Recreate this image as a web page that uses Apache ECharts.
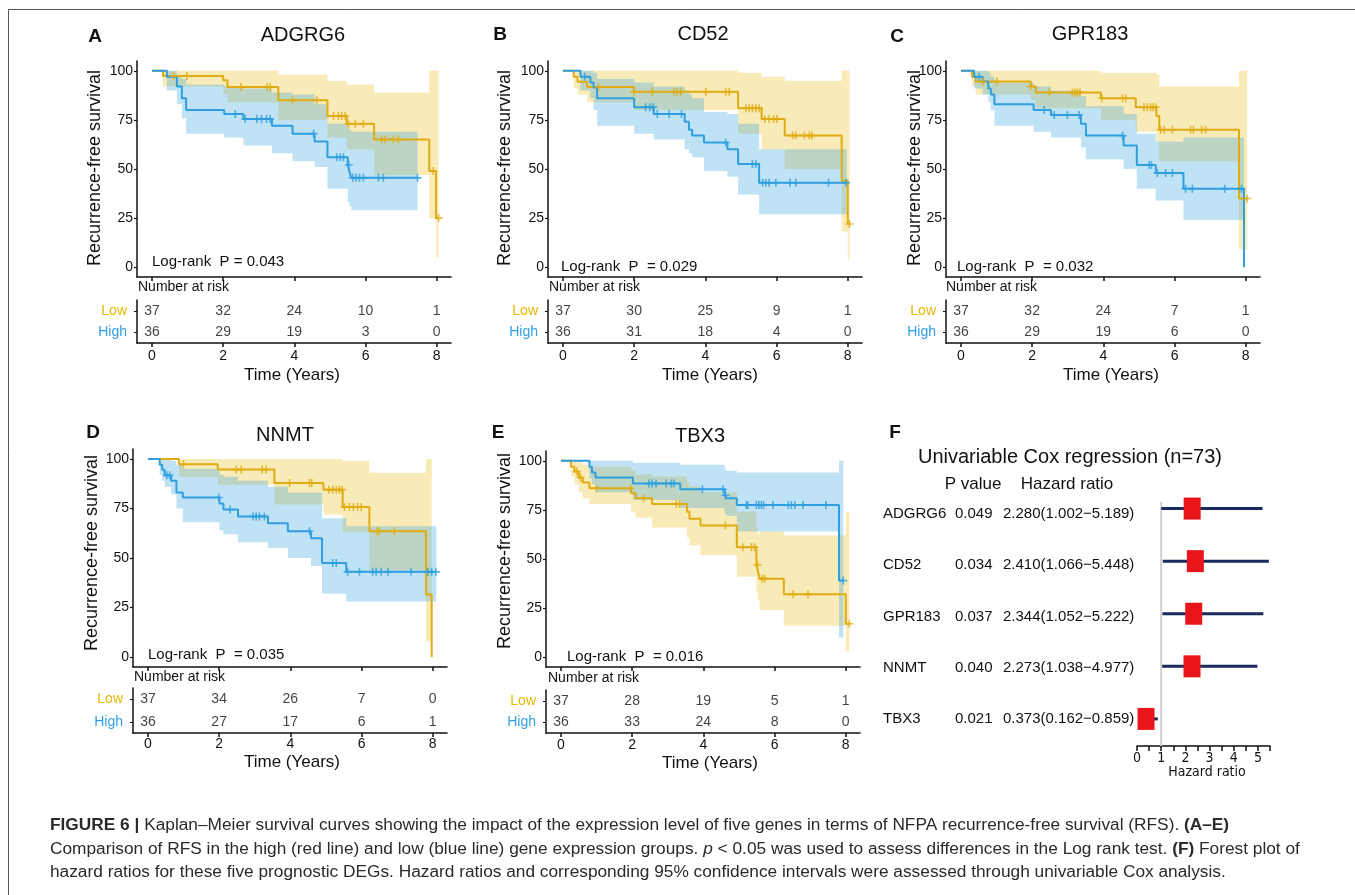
<!DOCTYPE html>
<html>
<head>
<meta charset="utf-8">
<title>Figure 6</title>
<script src="https://cdn.jsdelivr.net/npm/echarts@6.0.0/dist/echarts.min.js"></script>
<style>
  html, body { margin: 0; padding: 0; background: #fff; }
  #main { width: 1355px; height: 895px; }
</style>
</head>
<body>
<div id="main"></div>
<script>
// ---- values (time in years, survival in %) ----
// A: ADGRG6
var A_lowT    = [0, 0.31, 2.0, 2.12, 3.55, 4.93, 5.47, 6.24, 7.79, 7.98, 8.05];
var A_lowS    = [100, 97.3, 95.2, 91.8, 85, 77, 73, 65, 49, 25, 25];
var A_lowLo   = [100, 92, 88, 84, 75, 66, 60, 47, 25, 5, 5];
var A_lowHi   = [100, 100, 100, 100, 98, 95, 93, 89, 100, 100, 100];
var A_lowCens = [0.61, 0.98, 2.5, 3.23, 3.32, 3.95, 4.63, 5.1, 5.24, 5.33, 5.43, 5.52, 5.71, 5.94, 6.45, 6.55, 6.78, 6.92, 7.9, 8.05];
var A_highT    = [0, 0.42, 0.7, 0.84, 0.96, 2.03, 2.57, 3.37, 3.95, 4.57, 4.93, 5.5, 5.55, 5.6, 7.46];
var A_highS    = [100, 97, 92, 86, 80, 78, 75.5, 72, 68, 64, 56, 52, 48.5, 45.5, 45.5];
var A_highLo   = [100, 90, 83, 76, 68, 66, 62, 58, 54, 51, 40, 33, 31, 29, 29];
var A_highHi   = [100, 100, 98, 96, 93, 92, 91, 89, 88, 83, 73, 71, 70, 69, 69];
var A_highCens = [2.34, 2.62, 2.95, 3.08, 3.22, 3.32, 4.54, 5.19, 5.29, 5.38, 5.53, 5.64, 5.73, 5.83, 5.94, 6.36, 6.5, 7.46];
var A_riskLow  = [37, 32, 24, 10, 1];
var A_riskHigh = [36, 29, 19, 3, 0];

// B: CD52
var B_lowT    = [0, 0.30, 0.41, 0.68, 1.99, 4.92, 5.58, 6.23, 7.83, 8.0, 8.05];
var B_lowS    = [100, 97, 94.4, 91.8, 89.3, 81, 75.5, 67, 44, 22, 22];
var B_lowLo   = [100, 91, 88, 84, 80, 68, 60, 50, 18, 4, 4];
var B_lowHi   = [100, 100, 100, 100, 100, 99, 97, 95, 100, 100, 100];
var B_lowCens = [1.0, 1.99, 2.51, 3.12, 3.21, 3.31, 4.01, 4.57, 4.67, 5.14, 5.23, 5.32, 5.42, 5.51, 5.67, 5.79, 5.92, 6.01, 6.45, 6.54, 6.78, 6.92, 6.99, 8.05];
var B_highT    = [0, 0.49, 0.77, 0.86, 0.96, 2.0, 2.55, 3.42, 3.54, 3.63, 3.96, 4.62, 4.92, 5.51, 7.97];
var B_highS    = [100, 97, 94, 91.5, 86, 81.5, 78, 74, 70, 67, 63.5, 60, 52.5, 43, 43];
var B_highLo   = [100, 90, 86, 80, 72, 68, 65, 60, 58, 56, 49, 46, 37, 27, 27];
var B_highHi   = [100, 100, 100, 99, 96, 94, 92, 90, 88, 86, 79, 78, 73, 60, 60];
var B_highCens = [0.61, 2.32, 2.44, 2.53, 2.65, 2.98, 3.33, 4.57, 5.32, 5.42, 5.61, 5.7, 5.79, 5.98, 6.38, 6.54, 7.46, 7.95];
var B_riskLow  = [37, 30, 25, 9, 1];
var B_riskHigh = [36, 31, 18, 4, 0];

// C: GPR183
var C_lowT    = [0, 0.31, 0.42, 1.96, 2.10, 3.93, 4.91, 5.49, 5.57, 7.81, 8.04];
var C_lowS    = [100, 97, 94.5, 92, 89, 86, 81.5, 77, 70, 35, 35];
var C_lowLo   = [100, 92, 88, 85, 81, 75, 69, 64, 54, 9, 9];
var C_lowHi   = [100, 100, 100, 100, 100, 99, 99, 98, 92, 100, 100];
var C_lowCens = [0.61, 1.01, 1.96, 2.48, 3.13, 3.2, 3.27, 3.34, 3.96, 4.54, 4.63, 5.14, 5.24, 5.33, 5.4, 5.47, 5.61, 5.71, 5.94, 6.45, 6.53, 6.76, 6.87, 8.04];
var C_highT    = [0, 0.37, 0.61, 0.77, 0.84, 0.94, 2.04, 2.53, 3.37, 3.51, 4.57, 4.94, 5.47, 6.25, 7.95];
var C_highS    = [100, 97, 94.5, 91, 88, 83, 80, 77.5, 73, 67, 62, 52, 48, 40, 0];
var C_highLo   = [100, 91, 88, 84, 80, 72, 69, 66, 61, 55, 50, 40, 34, 24, 0];
var C_highHi   = [100, 100, 100, 99, 97, 94, 92, 90, 87, 82, 78, 68, 64, 66, 0];
var C_highCens = [0.51, 2.34, 2.62, 2.99, 3.32, 4.54, 5.29, 5.35, 5.52, 5.75, 5.94, 6.31, 6.5, 7.41, 7.88];
var C_riskLow  = [37, 32, 24, 7, 1];
var C_riskHigh = [36, 29, 19, 6, 0];

// D: NNMT
var D_lowT    = [0, 0.87, 1.96, 3.55, 4.93, 5.47, 6.22, 7.81, 7.97];
var D_lowS    = [100, 97.3, 94.6, 87.8, 84.5, 75.7, 63.5, 31.6, 0];
var D_lowLo   = [100, 91, 87, 77, 72, 63, 44, 8, 0];
var D_lowHi   = [100, 100, 100, 100, 100, 99, 93, 100, 0];
var D_lowCens = [1.0, 2.48, 2.62, 3.21, 3.32, 3.98, 4.54, 4.6, 5.08, 5.19, 5.29, 5.38, 5.45, 5.52, 5.66, 5.77, 5.89, 5.99, 6.44, 6.5, 6.92];
var D_highT    = [0, 0.33, 0.40, 0.47, 0.65, 0.8, 0.98, 2.01, 2.12, 2.53, 3.37, 3.93, 4.58, 4.89, 5.57, 8.1];
var D_highS    = [100, 97, 94.5, 91.7, 89, 83, 80.5, 77.5, 74.5, 71, 67.5, 63.5, 60, 47.5, 43, 43];
var D_highLo   = [100, 92, 89, 86, 82, 75, 68, 64, 62, 58, 55, 50, 46, 32, 28, 28];
var D_highHi   = [100, 100, 100, 100, 99, 97, 95, 92, 91, 89, 86, 83, 83, 70, 66, 66];
var D_highCens = [0.53, 0.61, 1.99, 2.31, 2.95, 3.04, 3.13, 3.27, 4.54, 5.19, 5.29, 5.61, 5.94, 6.31, 6.41, 6.55, 6.74, 7.39, 7.86, 7.97, 8.09];
var D_riskLow  = [37, 34, 26, 7, 0];
var D_riskHigh = [36, 27, 17, 6, 1];

// E: TBX3
var E_lowT    = [0, 0.28, 0.38, 0.50, 0.61, 0.80, 1.97, 2.09, 2.56, 3.54, 3.61, 3.92, 4.94, 5.49, 5.53, 5.58, 6.26, 8.0, 8.1];
var E_lowS    = [100, 97, 94.5, 91.5, 89, 86, 83.5, 81, 78, 74, 70.5, 67, 56, 47, 44, 40, 32, 17, 17];
var E_lowLo   = [100, 92, 88, 84, 81, 78, 74, 71, 66, 61, 57, 52, 41, 33, 29, 24, 16, 3, 3];
var E_lowHi   = [100, 100, 100, 100, 98, 97, 95, 93, 92, 89, 87, 84, 74, 66, 63, 64, 62, 74, 74];
var E_lowCens = [0.45, 0.55, 1.0, 1.96, 2.32, 3.24, 3.33, 4.62, 5.11, 5.35, 5.44, 5.52, 5.65, 5.72, 6.52, 6.94, 8.1];
var E_highT    = [0, 0.80, 0.87, 0.97, 2.02, 3.35, 4.60, 4.64, 4.94, 7.81, 7.93];
var E_highS    = [100, 97, 94, 91.5, 88.5, 85.5, 82.5, 81, 77.5, 39, 39];
var E_highLo   = [100, 91, 88, 84, 80, 76, 73, 72, 64, 10, 10];
var E_highHi   = [100, 100, 100, 100, 99, 98, 96, 95, 94, 100, 100];
var E_highCens = [2.47, 2.56, 2.67, 2.95, 3.1, 3.17, 3.97, 4.55, 4.62, 5.21, 5.25, 5.49, 5.56, 5.63, 5.69, 5.96, 6.38, 6.47, 6.57, 6.8, 7.44, 7.93];
var E_riskLow  = [37, 28, 19, 5, 1];
var E_riskHigh = [36, 33, 24, 8, 0];

var riskTimes = [0, 2, 4, 6, 8];
var survTicks = [0, 25, 50, 75, 100];

// F: univariable Cox regression
var coxGenes = ['ADGRG6', 'CD52', 'GPR183', 'NNMT', 'TBX3'];
var coxP     = ['0.049', '0.034', '0.037', '0.040', '0.021'];
var coxHR    = [2.280, 2.410, 2.344, 2.273, 0.373];
var coxLo    = [1.002, 1.066, 1.052, 1.038, 0.162];
var coxHi    = [5.189, 5.448, 5.222, 4.977, 0.859];

// ---- styling / layout ----
var FONT = 'Liberation Sans, Arial, Helvetica, sans-serif';
var NARROW = '"Liberation Sans Narrow", "DejaVu Sans Condensed", "Arial Narrow", sans-serif';
var GOLD = '#E0AC12', BLUE = '#2E9FDF';
var GOLD_TXT = '#E7B800';
var GOLD_BAND = 'rgba(231,184,0,0.28)', BLUE_BAND = 'rgba(46,159,223,0.3)';
var NAVY = '#1B2A5C', RED = '#E8151B';
var PLUS = 'path://M4,0H6V4H10V6H6V10H4V6H0V4H4Z';

var panels = [
  {id: 'A', gene: 'ADGRG6', p: 'Log-rank  P = 0.043',
   low: [A_lowT, A_lowS, A_lowLo, A_lowHi, A_lowCens], high: [A_highT, A_highS, A_highLo, A_highHi, A_highCens],
   risk: [A_riskLow, A_riskHigh],
   L: {x: 137, top: 61, h: 216, tabTop: 300, tabH: 43, letter: [95, 37], title: [303, 35], ylab: [95, 168], logrank: [152, 262], nar: [138, 287], lm: 6, time: [292, 375]}},
  {id: 'B', gene: 'CD52', p: 'Log-rank  P  = 0.029',
   low: [B_lowT, B_lowS, B_lowLo, B_lowHi, B_lowCens], high: [B_highT, B_highS, B_highLo, B_highHi, B_highCens],
   risk: [B_riskLow, B_riskHigh],
   L: {x: 548, top: 61, h: 216, tabTop: 300, tabH: 43, letter: [500, 35], title: [703, 34], ylab: [505, 168], logrank: [561, 267], nar: [549, 287], lm: 6, time: [710, 375]}},
  {id: 'C', gene: 'GPR183', p: 'Log-rank  P  = 0.032',
   low: [C_lowT, C_lowS, C_lowLo, C_lowHi, C_lowCens], high: [C_highT, C_highS, C_highLo, C_highHi, C_highCens],
   risk: [C_riskLow, C_riskHigh],
   L: {x: 946, top: 61, h: 216, tabTop: 300, tabH: 43, letter: [897, 37], title: [1090, 34], ylab: [915, 168], logrank: [957, 267], nar: [946, 287], lm: 6, time: [1111, 375]}},
  {id: 'D', gene: 'NNMT', p: 'Log-rank  P  = 0.035',
   low: [D_lowT, D_lowS, D_lowLo, D_lowHi, D_lowCens], high: [D_highT, D_highS, D_highLo, D_highHi, D_highCens],
   risk: [D_riskLow, D_riskHigh],
   L: {x: 133, top: 449, h: 218, tabTop: 688, tabH: 45, letter: [93, 433], title: [285, 435], ylab: [92, 553], logrank: [148, 655], nar: [134, 677], lm: 4, time: [292, 762]}},
  {id: 'E', gene: 'TBX3', p: 'Log-rank  P  = 0.016',
   low: [E_lowT, E_lowS, E_lowLo, E_lowHi, E_lowCens], high: [E_highT, E_highS, E_highLo, E_highHi, E_highCens],
   risk: [E_riskLow, E_riskHigh],
   L: {x: 546, top: 451, h: 216, tabTop: 690, tabH: 43, letter: [498, 433], title: [700, 436], ylab: [505, 551], logrank: [567, 657], nar: [548, 678], lm: 5, time: [710, 763]}}
];

var grids = [], xAxes = [], yAxes = [], series = [], graphics = [];
var PLOT_W = 314;

function txt(x, y, s, o) {
  var st = {text: s, fontFamily: FONT, fontSize: 15, fill: '#111', align: 'left', verticalAlign: 'middle'};
  for (var k in o) st[k] = o[k];
  graphics.push({type: 'text', x: x, y: y, style: st, silent: true, z: 10});
}

function survAt(t, s, x) {
  var v = s[0];
  for (var i = 0; i < t.length; i++) { if (t[i] <= x) v = s[i]; }
  return v;
}

function bandSeries(gi, t, lo, hi, color) {
  return {
    type: 'custom', xAxisIndex: gi, yAxisIndex: gi, silent: true, z: 1,
    data: t.map(function (v, i) { return [v, lo[i], hi[i]]; }),
    renderItem: function (params, api) {
      if (params.dataIndex !== 0) return null;
      var up = [], dn = [];
      for (var i = 0; i < t.length - 1; i++) {
        up.push(api.coord([t[i], hi[i]]), api.coord([t[i + 1], hi[i]]));
        dn.push(api.coord([t[i], lo[i]]), api.coord([t[i + 1], lo[i]]));
      }
      return {type: 'polygon', shape: {points: up.concat(dn.reverse())}, style: {fill: color}};
    }
  };
}

function axisLine() { return {show: true, onZero: false, lineStyle: {color: '#111', width: 1.5}}; }

panels.forEach(function (P) {
  var L = P.L;
  // survival plot
  var gi = grids.length;
  grids.push({left: L.x, top: L.top, width: PLOT_W, height: L.h});
  xAxes.push({gridIndex: gi, type: 'value', min: -0.42, max: 8.4,
    axisLine: axisLine(), axisTick: {show: true, customValues: riskTimes, length: 4, lineStyle: {color: '#111', width: 1.5}},
    axisLabel: {show: false}, splitLine: {show: false}});
  yAxes.push({gridIndex: gi, type: 'value', min: -5, max: 105,
    axisLine: axisLine(), axisTick: {show: true, customValues: survTicks, length: 3, lineStyle: {color: '#111', width: 1.2}},
    axisLabel: {customValues: survTicks, fontSize: 14, color: '#111', margin: 4, fontFamily: FONT},
    splitLine: {show: false}});

  series.push(bandSeries(gi, P.low[0], P.low[2], P.low[3], GOLD_BAND));
  series.push(bandSeries(gi, P.high[0], P.high[2], P.high[3], BLUE_BAND));
  [[P.low, GOLD], [P.high, BLUE]].forEach(function (g) {
    var d = g[0], col = g[1];
    series.push({type: 'line', xAxisIndex: gi, yAxisIndex: gi, step: 'end', symbol: 'none', silent: true, z: 3,
      data: d[0].map(function (v, i) { return [v, d[1][i]]; }),
      lineStyle: {color: col, width: 2}});
  });
  [[P.low, GOLD], [P.high, BLUE]].forEach(function (g) {
    var d = g[0], col = g[1];
    series.push({type: 'scatter', xAxisIndex: gi, yAxisIndex: gi, symbol: PLUS, symbolSize: 8, silent: true, z: 4,
      data: d[4].map(function (c) { return [c, survAt(d[0], d[1], c)]; }),
      itemStyle: {color: col}});
  });

  // number-at-risk table
  var ti = grids.length;
  grids.push({left: L.x, top: L.tabTop, width: PLOT_W, height: L.tabH});
  xAxes.push({gridIndex: ti, type: 'value', min: -0.42, max: 8.4,
    axisLine: axisLine(), axisTick: {show: true, customValues: riskTimes, length: 4, lineStyle: {color: '#111', width: 1.5}},
    axisLabel: {customValues: riskTimes, fontSize: 14, color: '#111', margin: L.lm, fontFamily: FONT},
    splitLine: {show: false}});
  yAxes.push({gridIndex: ti, type: 'category', data: ['High', 'Low'],
    axisLine: axisLine(), axisTick: {show: true, length: 3, alignWithLabel: true, lineStyle: {color: '#111'}},
    axisLabel: {fontSize: 14, margin: 10, fontFamily: FONT,
      color: function (v) { return v === 'Low' ? GOLD_TXT : BLUE; }},
    splitLine: {show: false}});
  var rows = [];
  riskTimes.forEach(function (tm, i) {
    rows.push([tm, 1, P.risk[0][i]]);
    rows.push([tm, 0, P.risk[1][i]]);
  });
  series.push({type: 'scatter', xAxisIndex: ti, yAxisIndex: ti, symbolSize: 0.1, silent: true,
    itemStyle: {color: 'transparent'}, data: rows,
    label: {show: true, position: 'inside', fontSize: 14, color: '#111', fontFamily: FONT,
      formatter: function (p) { return String(p.value[2]); }}});

  // text
  txt(L.letter[0], L.letter[1], P.id, {fontWeight: 'bold', fontSize: 19, align: 'center'});
  txt(L.title[0], L.title[1], P.gene, {fontSize: 20, align: 'center'});
  graphics.push({type: 'text', x: L.ylab[0], y: L.ylab[1], rotation: Math.PI / 2, silent: true, z: 10,
    style: {text: 'Recurrence-free survival', fontFamily: FONT, fontSize: 18, fill: '#111', align: 'center', verticalAlign: 'middle'}});
  txt(L.logrank[0], L.logrank[1], P.p, {fontSize: 15});
  txt(L.nar[0], L.nar[1], 'Number at risk', {fontSize: 14});
  txt(L.time[0], L.time[1], 'Time (Years)', {fontSize: 17, align: 'center'});
});

// ---- forest plot (F) ----
var fi = grids.length;
grids.push({left: 1137, top: 502, width: 133.1, height: 244});
xAxes.push({gridIndex: fi, type: 'value', min: 0, max: 5.5, interval: 0.5,
  axisLine: axisLine(), axisTick: {show: true, length: 5, lineStyle: {color: '#111', width: 1.5}},
  axisLabel: {fontSize: 14, color: '#111', margin: 5, fontFamily: NARROW,
    formatter: function (v) { return v % 1 === 0 ? String(v) : ''; }},
  splitLine: {show: false}});
yAxes.push({gridIndex: fi, type: 'value', min: -0.125, max: 4.515, inverse: true, show: false, splitLine: {show: false}});
series.push({type: 'line', xAxisIndex: fi, yAxisIndex: fi, symbol: 'none', silent: true, z: 1,
  data: [[1, -0.125], [1, 4.515]], lineStyle: {color: '#cfcfcf', width: 2}});
series.push({type: 'custom', xAxisIndex: fi, yAxisIndex: fi, silent: true, z: 3,
  data: coxGenes.map(function (g, i) { return [i, coxLo[i], coxHi[i], coxHR[i]]; }),
  renderItem: function (params, api) {
    var row = api.value(0);
    var a = api.coord([api.value(1), row]), b = api.coord([api.value(2), row]), c = api.coord([api.value(3), row]);
    return {type: 'group', children: [
      {type: 'line', shape: {x1: a[0], y1: a[1], x2: b[0], y2: b[1]}, style: {stroke: NAVY, lineWidth: 3}},
      {type: 'rect', shape: {x: c[0] - 8.5, y: c[1] - 11, width: 17, height: 22}, style: {fill: RED}}
    ]};
  }});

txt(895, 433, 'F', {fontWeight: 'bold', fontSize: 19, align: 'center'});
txt(1070, 457, 'Univariable Cox regression (n=73)', {fontSize: 20, align: 'center'});
txt(973, 484, 'P value', {fontSize: 17, align: 'center'});
txt(1067, 484, 'Hazard ratio', {fontSize: 17, align: 'center'});
coxGenes.forEach(function (g, i) {
  var y = 514 + i * 51.25;
  txt(883, y, g, {fontSize: 15});
  txt(955, y, coxP[i], {fontSize: 15});
  txt(1003, y, coxHR[i].toFixed(3) + '(' + coxLo[i].toFixed(3) + '\u2212' + coxHi[i].toFixed(3) + ')', {fontSize: 15});
});
txt(1207, 772, 'Hazard ratio', {fontSize: 14, align: 'center', fontFamily: NARROW});

// ---- frame and caption ----
graphics.push({type: 'line', shape: {x1: 8.5, y1: 9.5, x2: 1355, y2: 9.5}, style: {stroke: '#555', lineWidth: 1}, silent: true});
graphics.push({type: 'line', shape: {x1: 8.5, y1: 9.5, x2: 8.5, y2: 895}, style: {stroke: '#555', lineWidth: 1}, silent: true});
var CAP = 17.3;
var rich = {
  b: {fontWeight: 'bold', fontSize: CAP, fontFamily: FONT, fill: '#2a2a2a'},
  i: {fontStyle: 'italic', fontSize: CAP, fontFamily: FONT, fill: '#2a2a2a'}
};
txt(50, 825, '{b|FIGURE 6 |} Kaplan\u2013Meier survival curves showing the impact of the expression level of five genes in terms of NFPA recurrence-free survival (RFS). {b|(A\u2013E)}', {fontSize: CAP, fill: '#2a2a2a', rich: rich});
txt(50, 849, 'Comparison of RFS in the high (red line) and low (blue line) gene expression groups. {i|p} < 0.05 was used to assess differences in the Log rank test. {b|(F)} Forest plot of', {fontSize: CAP, fill: '#2a2a2a', rich: rich});
txt(50, 872, 'hazard ratios for these five prognostic DEGs. Hazard ratios and corresponding 95% confidence intervals were assessed through univariable Cox analysis.', {fontSize: CAP, fill: '#2a2a2a', rich: rich});

var chart = echarts.init(document.getElementById('main'), null, {renderer: 'canvas'});
chart.setOption({
  animation: false,
  backgroundColor: '#fff',
  grid: grids,
  xAxis: xAxes,
  yAxis: yAxes,
  series: series,
  graphic: graphics
});
</script>
</body>
</html>
